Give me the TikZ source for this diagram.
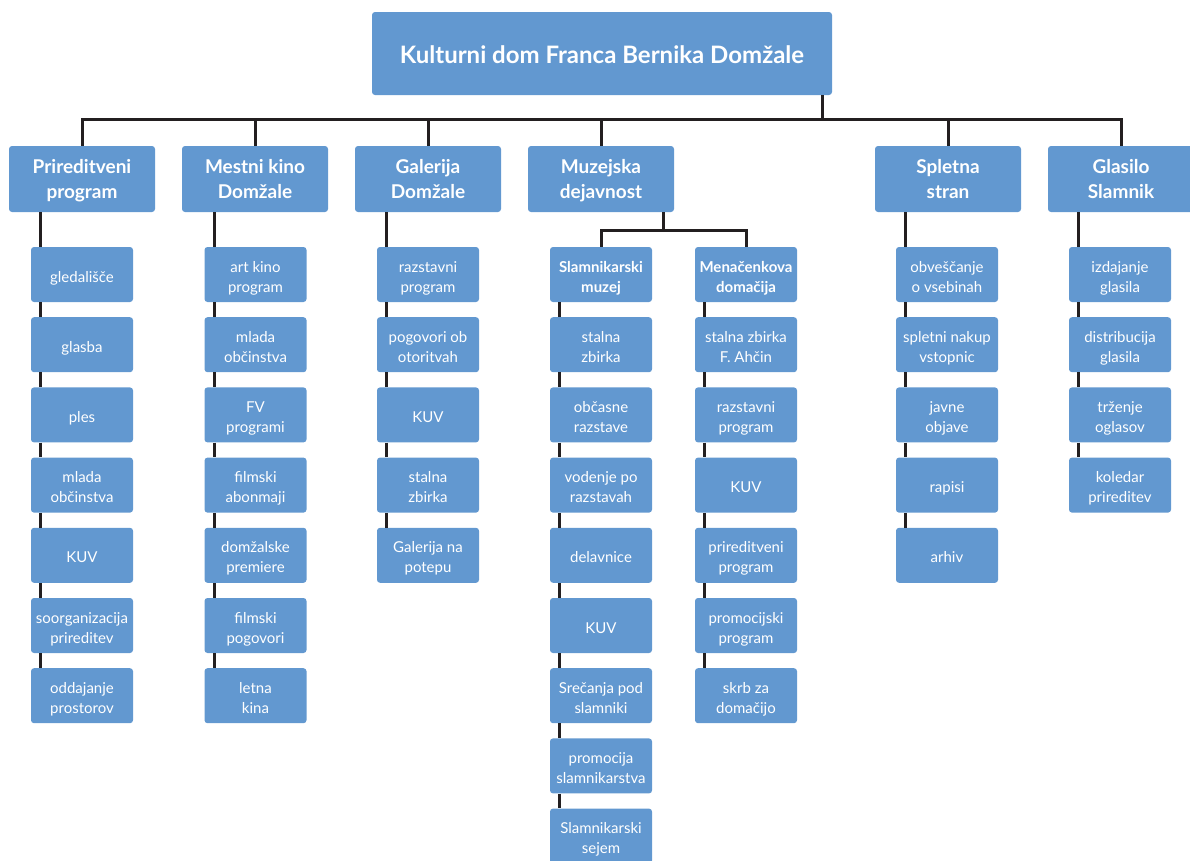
\documentclass[tikz,border=0pt]{standalone}
\usepackage{fontspec}
\setmainfont{Lato}
\usetikzlibrary{calc}
\definecolor{boxblue}{HTML}{6298D0}
\definecolor{linecol}{HTML}{231F20}
\newcommand\boxlbl[2]{\raisebox{#1}[\height][\depth]{\begin{tabular}{@{}c@{}}#2\end{tabular}}}
\tikzset{
  base/.style={fill=boxblue, rounded corners=3pt, text=white, inner sep=0pt},
  topbox/.style={base, minimum width=460pt, minimum height=83pt, font=\bfseries\fontsize{24}{28}\selectfont},
  catbox/.style={base, minimum width=146pt, minimum height=66pt, font=\bfseries\fontsize{19}{25}\selectfont},
  itembox/.style={base, minimum width=102pt, minimum height=55pt, font=\fontsize{15}{20}\selectfont},
  subbox/.style={itembox, font=\bfseries\fontsize{15}{20}\selectfont},
  conn/.style={draw=linecol, line width=3pt},
}
\newcommand\mkcolumn[5]{%
  \foreach \txt [count=\i from #3] in {#5} {%
    \node[itembox] (#1\i) at (#2,{274.5+70.2*\i}) {\boxlbl{-3.5pt}{\txt}};
    \coordinate (#1t\i) at ([xshift=-41.5pt]#1\i.north);
    \ifnum\i=#3\relax
      \draw[conn] (#4.south -| #1t\i) -- (#1t\i);
    \else
      \pgfmathtruncatemacro\prevrow{\i-1}%
      \draw[conn] ([xshift=-41.5pt]#1\prevrow.south) -- (#1t\i);
    \fi
  }%
}
\begin{document}
\begin{tikzpicture}[x=1pt,y=-1pt]
\useasboundingbox (0,0) rectangle (1190,860);
\clip (0,0) rectangle (1190,860);
% root and categories
\node[topbox] (root) at (602,53.5) {\boxlbl{-4pt}{Kulturni dom Franca Bernika Domžale}};
\node[catbox] (P)  at (82,179)   {\boxlbl{-2pt}{Prireditveni\\program}};
\node[catbox] (M)  at (255,179)  {\boxlbl{-2pt}{Mestni kino\\Domžale}};
\node[catbox] (G)  at (428,179)  {\boxlbl{-2pt}{Galerija\\Domžale}};
\node[catbox] (Mu) at (601,179)  {\boxlbl{-2pt}{Muzejska\\dejavnost}};
\node[catbox] (S)  at (948,179)  {\boxlbl{-2pt}{Spletna\\stran}};
\node[catbox] (Gl) at (1121,179) {\boxlbl{-2pt}{Glasilo\\Slamnik}};
% bus
\coordinate (bus) at (0,119);
\coordinate (rd) at ([xshift=-10pt]root.south east);
\draw[conn] (rd) -- (rd |- bus);
\draw[conn] (P.north) -- (P.north |- bus) -- (Gl.north |- bus) -- (Gl.north);
\foreach \n in {M,G,Mu,S} { \draw[conn] (\n.north |- bus) -- (\n.north); }
% museum split
\node[subbox] (sm) at (601,274.5) {\boxlbl{-3.5pt}{Slamnikarski\\muzej}};
\node[subbox] (md) at (746,274.5) {\boxlbl{-3.5pt}{Menačenkova\\domačija}};
\coordinate (mud) at ([xshift=62pt]Mu.south);
\coordinate (mubus) at (0,230);
\draw[conn] (mud) -- (mud |- mubus);
\draw[conn] (sm.north) -- (sm.north |- mubus) -- (md.north |- mubus) -- (md.north);
% columns
\mkcolumn{p}{82}{0}{P}{gledališče,glasba,ples,mlada\\občinstva,KUV,soorganizacija\\prireditev,oddajanje\\prostorov}
\mkcolumn{m}{255.5}{0}{M}{art kino\\program,mlada\\občinstva,FV\\programi,filmski\\abonmaji,domžalske\\premiere,filmski\\pogovori,letna\\kina}
\mkcolumn{g}{428}{0}{G}{razstavni\\program,pogovori ob\\otoritvah,KUV,stalna\\zbirka,Galerija na\\potepu}
\mkcolumn{s}{601}{1}{sm}{stalna\\zbirka,občasne\\razstave,vodenje po\\razstavah,delavnice,KUV,Srečanja pod\\slamniki,promocija\\slamnikarstva,Slamnikarski\\sejem}
\mkcolumn{d}{746}{1}{md}{stalna zbirka\\F. Ahčin,razstavni\\program,KUV,prireditveni\\program,promocijski\\program,skrb za\\domačijo}
\mkcolumn{w}{947}{0}{S}{obveščanje\\o vsebinah,spletni nakup\\vstopnic,javne\\objave,rapisi,arhiv}
\mkcolumn{k}{1120}{0}{Gl}{izdajanje\\glasila,distribucija\\glasila,trženje\\oglasov,koledar\\prireditev}
\end{tikzpicture}
\end{document}
